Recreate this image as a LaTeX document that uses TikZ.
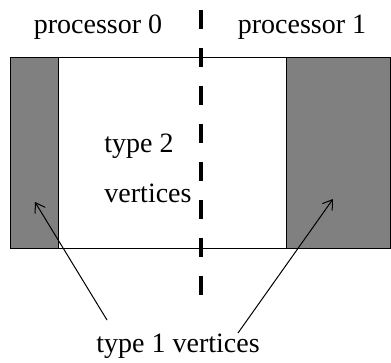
\documentclass[tikz,border=0pt]{standalone}
\usepackage{fontspec}
\setmainfont{Liberation Serif}
\usetikzlibrary{positioning,arrows.meta}
\tikzstyle{lbl}=[font=\fontsize{28}{32}\selectfont, inner sep=0pt, anchor=base]
\tikzstyle{part}=[draw, fill=black!50, line width=1pt]
\tikzstyle{cut}=[line width=4pt, dash pattern=on 19pt off 19pt]

\begin{document}
\begin{tikzpicture}[x=1pt,y=-1pt,>={Straight Barb[length=9pt,width=12pt]}]
\useasboundingbox (0,0) rectangle (391,362);
% the graph, split between two processors
\draw[line width=1pt] (10,57) rectangle (390,248);
\draw[part] (10,57) rectangle (58,248);
\draw[part] (286,57) rectangle (390,248);

\node[lbl] (proc0) at (98,33) {processor 0};
\node[lbl] (proc1) at (302,33) {processor 1};
\node[lbl] (type2) at (139,152) {type 2};
\node[lbl] (vert2) at (148,202) {vertices};
\node[lbl] (type1) at (178,352) {type 1 vertices};

% processor boundary
\draw[cut] (201,10) -- (201,296);

\coordinate (tail0) at (107,320);
\coordinate (tip0) at (35,202);
\coordinate (tail1) at (238,333);
\coordinate (tip1) at (333,199);
\draw[->,line width=1pt] (tail0) -- (tip0);
\draw[->,line width=1pt] (tail1) -- (tip1);
\end{tikzpicture}
\end{document}
